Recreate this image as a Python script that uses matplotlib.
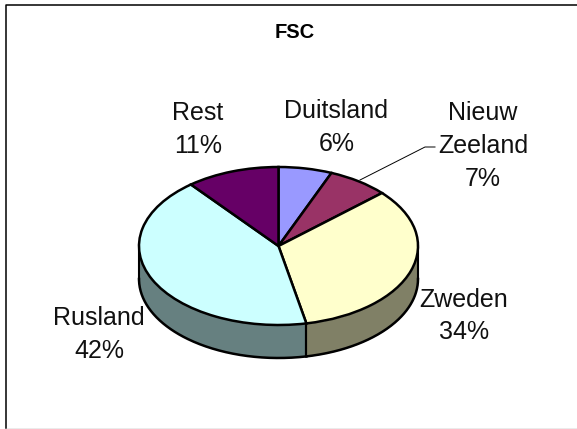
import numpy as np
import matplotlib
matplotlib.use("Agg")
import matplotlib.pyplot as plt

title = "FSC"
categories = ["Duitsland", "Nieuw Zeeland", "Zweden", "Rusland", "Rest"]
values = [6.2, 7.1, 33.5, 42.4, 10.8]
percent_labels = ["6%", "7%", "34%", "42%", "11%"]

top_colors = ["#9999FF", "#993366", "#FFFFCC", "#CCFFFF", "#660066"]
side_colors = {"Zweden": "#808066", "Rusland": "#668080"}

W, H = 577, 429
cx, cy, a, b, depth = 278.5, 246.0, 139.5, 79.0, 33.0

plt.rcParams["font.family"] = ["Liberation Sans", "DejaVu Sans"]
fig = plt.figure(figsize=(W / 100, H / 100), dpi=100, facecolor="white")
ax = fig.add_axes([0, 0, 1, 1])

d = depth / b
# wall of the pie: only the front half is visible
cum = np.cumsum(values) / np.sum(values) * 2 * np.pi
start = np.r_[0, cum[:-1]]
for name, s, e in zip(categories, start, cum):
    s2, e2 = max(s, np.pi / 2), min(e, 3 * np.pi / 2)
    if e2 <= s2:
        continue
    t = np.linspace(s2, e2, 200)
    x = np.sin(t)
    y = np.cos(t)
    ax.fill_between(x, y - d, y, color=side_colors.get(name, "#808080"), lw=0, zorder=1)
    ax.plot(x, y - d, color="black", lw=1.8, zorder=2)
    for tt in (s2, e2):
        ax.plot([np.sin(tt)] * 2, [np.cos(tt), np.cos(tt) - d], color="black", lw=1.5, zorder=2)

ax.pie(values, colors=top_colors, startangle=90, counterclock=False, radius=1,
       wedgeprops=dict(edgecolor="black", linewidth=1.8, zorder=3))
ax.set_aspect("auto")
ax.set_xlim(-cx / a, (W - cx) / a)
ax.set_ylim((cy - H) / b, cy / b)
ax.axis("off")


def px(x, y):
    return x / W, 1 - y / H


def frame_line(xs, ys, color, lw):
    fig.add_artist(plt.Line2D(np.array(xs) / W, 1 - np.array(ys) / H, color=color, lw=lw))


# frame: the right edge lies outside the picture, the bottom edge on its last row
frame_line([5.5, 5.5, 577], [428, 4.8, 4.8], "black", 1.1)
frame_line([5.5, 577], [428.5, 428.5], "#999999", 1.0)
fig.text(*px(295, 32), title, fontsize=14.5, fontweight="bold", ha="center", va="center")

label_pos = [(336.5, 127.5), (483, 146), (464, 316), (99, 334.5), (198, 129.5)]
label_text = ["Duitsland", "Nieuw\nZeeland", "Zweden", "Rusland", "Rest"]
for (x, y), name, pct in zip(label_pos, label_text, percent_labels):
    fig.text(*px(x, y), f"{name}\n{pct}", fontsize=18, ha="center", va="center",
             linespacing=1.47, color="#111111")

# leader line for Nieuw Zeeland
frame_line([360, 425, 435], [180, 147, 147], "black", 0.7)

fig.savefig("out.png", dpi=100)
